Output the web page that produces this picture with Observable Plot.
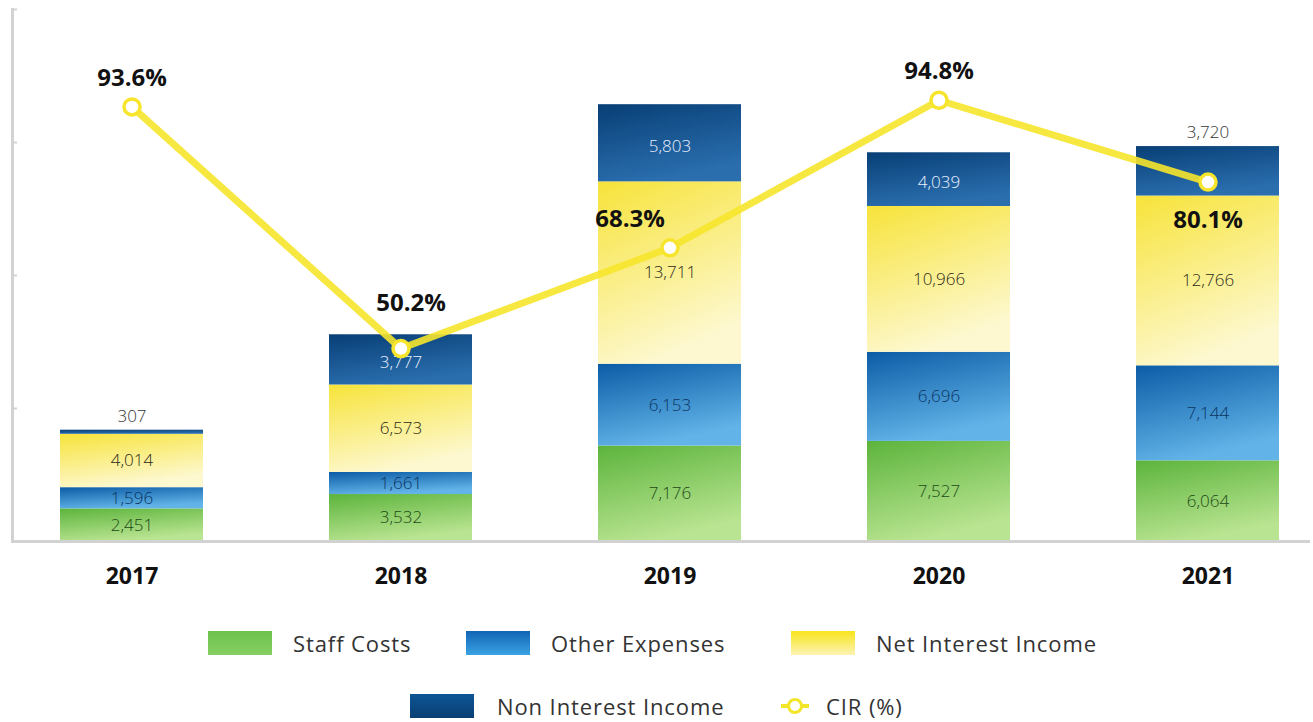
<!DOCTYPE html>
<html>
<head>
<meta charset="utf-8">
<script src="https://cdn.jsdelivr.net/npm/d3@7"></script>
<script src="https://cdn.jsdelivr.net/npm/@observablehq/plot@0.6"></script>
<style>
  html, body { margin: 0; padding: 0; background: #fff; overflow: hidden; }
  #chart { width: 1313px; }
  .legend { position: relative; width: 1313px; height: 122px; font-family: "Open Sans", Lato, sans-serif; font-size: 22px; color: #333; font-weight: 400; letter-spacing: 0.9px; }
  .sw { position: absolute; width: 64px; height: 24px; }
  .lt { position: absolute; line-height: 24px; height: 24px; white-space: nowrap; }
  .ic { position: absolute; }
</style>
</head>
<body>
<div id="chart"></div>
<div class="legend">
  <div class="sw" style="left:208px;top:31px;background:linear-gradient(#6cc24c,#86cf62)"></div>
  <div class="lt" style="left:293px;top:31px">Staff Costs</div>
  <div class="sw" style="left:466px;top:31px;background:linear-gradient(#1264b4,#3aa2e2)"></div>
  <div class="lt" style="left:551px;top:31px">Other Expenses</div>
  <div class="sw" style="left:791px;top:31px;background:linear-gradient(#f8e51c,#fdf3b4)"></div>
  <div class="lt" style="left:876px;top:31px">Net Interest Income</div>
  <div class="sw" style="left:410px;top:94px;background:linear-gradient(#0d5595,#0a3f74)"></div>
  <div class="lt" style="left:497px;top:94px">Non Interest Income</div>
  <svg class="ic" style="left:781px;top:96px" width="28" height="20"><line x1="0" y1="10" x2="28" y2="10" stroke="#f3e52a" stroke-width="4"/><circle cx="14" cy="10" r="6.5" fill="#fff" stroke="#f3e52a" stroke-width="3"/></svg>
  <div class="lt" style="left:826px;top:94px">CIR (%)</div>
</div>
<script>
// ---- data ----
const years = ["2017", "2018", "2019", "2020", "2021"];
const staffCosts = [2451, 3532, 7176, 7527, 6064];
const otherExpenses = [1596, 1661, 6153, 6696, 7144];
const netInterestIncome = [4014, 6573, 13711, 10966, 12766];
const nonInterestIncome = [307, 3777, 5803, 4039, 3720];
const cir = [93.6, 50.2, 68.3, 94.8, 80.1];
const seriesNames = ["Staff Costs", "Other Expenses", "Net Interest Income", "Non Interest Income"];
// label placement categories
const nonInterestLabelOutside = [true, false, false, false, true];
const cirLabelPlace = ["above", "aboveHigh", "upperLeft", "above", "below"];

// ---- styling ----
const gradIds = ["gStaff", "gOther", "gNII", "gNonII"];
const gradStops = [
  [["0%", "#5cb43c"], ["100%", "#b9e491"]],
  [["0%", "#0b5ca6"], ["100%", "#62b4e8"]],
  [["0%", "#f7e33a"], ["100%", "#fdf8cf"]],
  [["0%", "#083f76"], ["100%", "#2a6eae"]]
];
const labelColors = ["#1d4a16", "#0c3463", "#2b2a18", "#e9f1ff"];
const fmt = d3.format(",");

// ---- build stacked rows ----
const seriesValues = [staffCosts, otherExpenses, netInterestIncome, nonInterestIncome];
const rows = [];
years.forEach((year, i) => {
  let acc = 0;
  seriesValues.forEach((vals, s) => {
    const v = vals[i];
    rows.push({year, series: seriesNames[s], s, i, value: v, y1: acc, y2: acc + v});
    acc += v;
  });
});
const cirRows = years.map((year, i) => ({year, i, cir: cir[i]}));

// secondary axis for CIR mapped onto the bar value scale
const cirScale = d3.scaleLinear().domain([15.55, 111.1]).range([0, 40000]);

const defsMark = () => {
  const ns = "http://www.w3.org/2000/svg";
  const defs = document.createElementNS(ns, "defs");
  gradIds.forEach((id, k) => {
    const g = document.createElementNS(ns, "linearGradient");
    g.setAttribute("id", id);
    g.setAttribute("x1", "0"); g.setAttribute("y1", "0");
    g.setAttribute("x2", "0.35"); g.setAttribute("y2", "1");
    gradStops[k].forEach(([o, c]) => {
      const st = document.createElementNS(ns, "stop");
      st.setAttribute("offset", o);
      st.setAttribute("stop-color", c);
      g.appendChild(st);
    });
    defs.appendChild(g);
  });
  return defs;
};

const insideRows = rows.filter(d => !(d.s === 3 && nonInterestLabelOutside[d.i]));
const outsideRows = rows.filter(d => d.s === 3 && nonInterestLabelOutside[d.i]);

const placeDx = {above: 0, aboveHigh: 10, upperLeft: -40, below: 0};
const placeDy = {above: -29, aboveHigh: -45, upperLeft: -28, below: 38};

const chart = Plot.plot({
  width: 1313,
  height: 600,
  marginLeft: 12,
  marginRight: 3,
  marginTop: 9,
  marginBottom: 59,
  style: {fontFamily: "'Open Sans', Lato, sans-serif", background: "#fff"},
  x: {type: "band", domain: years, range: [58, 1281], paddingInner: 0.467, paddingOuter: 0, axis: null},
  y: {domain: [0, 40000], axis: null},
  marks: [
    defsMark,
    ...seriesNames.map((name, s) =>
      Plot.barY(rows.filter(d => d.s === s), {x: "year", y1: "y1", y2: "y2", fill: `url(#${gradIds[s]})`})
    ),
    Plot.ruleY([0], {stroke: "#d2d2d2", strokeWidth: 3}),
    Plot.frame({anchor: "left", stroke: "#d2d2d2", strokeWidth: 3}),
    Plot.axisY({ticks: [10000, 20000, 30000, 40000], tickSize: -5, stroke: "#d2d2d2", strokeWidth: 2, tickFormat: () => "", label: null}),
    ...seriesNames.map((name, s) =>
      Plot.text(insideRows.filter(d => d.s === s), {
        x: "year", y: d => (d.y1 + d.y2) / 2, text: d => fmt(d.value),
        dy: s === 3 ? 3 : 0,
        fill: labelColors[s], fontSize: 17, fontWeight: 300
      })
    ),
    Plot.text(outsideRows, {x: "year", y: "y2", text: d => fmt(d.value), dy: -14, fill: "#333", fontSize: 17, fontWeight: 300}),
    Plot.text(years, {x: d => d, y: 0, dy: 35, text: d => d, fill: "#111", fontSize: 23, fontWeight: 700}),
    Plot.line(cirRows, {x: "year", y: d => cirScale(d.cir), stroke: "#f6e52c", strokeWidth: 7, strokeOpacity: 0.9}),
    Plot.dot(cirRows, {x: "year", y: d => cirScale(d.cir), r: 8, fill: "#fff", stroke: "#f6e52c", strokeWidth: 3.5}),
    ...Object.keys(placeDx).map(p =>
      Plot.text(cirRows.filter(d => cirLabelPlace[d.i] === p), {
        x: "year", y: d => cirScale(d.cir), text: d => d.cir.toFixed(1) + "%",
        dx: placeDx[p], dy: placeDy[p], fill: "#111", fontSize: 24, fontWeight: 700
      })
    )
  ]
});
document.getElementById("chart").appendChild(chart);
</script>
</body>
</html>
